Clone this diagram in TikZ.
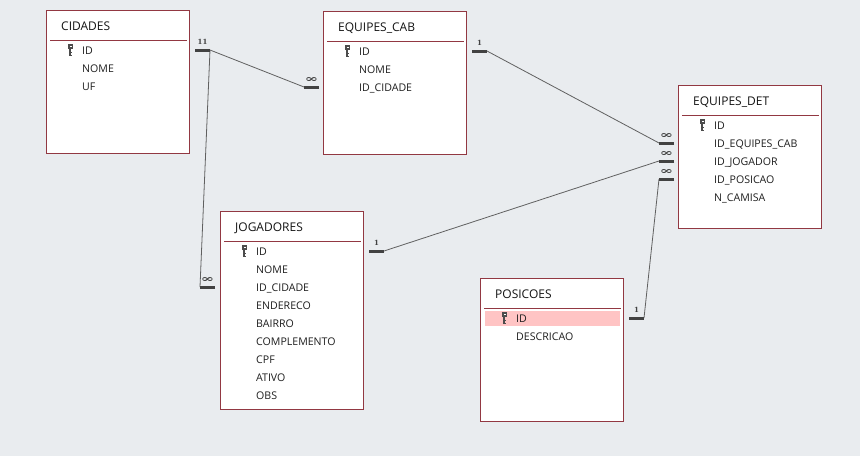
\documentclass[tikz,border=0pt]{standalone}
\usepackage{fontspec}
\setmainfont{Open Sans}
\newfontfamily\cardfont{DejaVu Serif}
\usepackage{graphicx}
\usepackage{tikz}
\usetikzlibrary{positioning, calc}
\definecolor{canvas}{RGB}{233,236,239}
\definecolor{tblred}{RGB}{146,56,66}
\definecolor{pkpink}{RGB}{255,196,196}
\definecolor{linkgray}{RGB}{96,96,96}
\definecolor{bargray}{RGB}{66,66,66}
\tikzset{
  table box/.style={draw=tblred, fill=white, line width=1pt, minimum width=143pt, anchor=north west, inner sep=0pt},
  table title/.style={anchor=west, inner sep=0pt, text height=8.6pt, text depth=0pt, text=black!92, font=\fontsize{12}{12}\selectfont},
  field/.style={anchor=west, inner sep=0pt, text height=7.5pt, text depth=0pt, text=black!88, font=\fontsize{10.6}{10.6}\selectfont},
  sep line/.style={draw=tblred, line width=1pt},
  card bar/.style={draw=bargray, line width=3pt},
  one label/.style={inner sep=0pt, above=4pt, text=bargray, font=\cardfont\bfseries\fontsize{7}{7}\selectfont},
  many label/.style={inner sep=0pt, above=3.5pt, text=bargray, font=\cardfont\bfseries\fontsize{10}{10}\selectfont},
  link/.style={draw=linkgray, line width=0.8pt},
  keyicon/.pic={
    \fill[black!70] (-2.5,-6) rectangle (2.5,-1.5);
    \fill[white] (-1,-4.8) rectangle (1,-3);
    \fill[black!70] (-1.2,-1.5) rectangle (0.3,6);
    \fill[black!70] (0.3,1.5) rectangle (1.8,2.7);
    \fill[black!70] (0.3,4.3) rectangle (1.8,5.5);
  },
}

\begin{document}
\begin{tikzpicture}[x=1pt, y=-1pt]
  % Canvas
  \fill[canvas] (0,0) rectangle (860,456);
  \useasboundingbox (0,0) rectangle (860,456);

  % CIDADES
  \node[table box, minimum height=143pt] (cidades) at (46,10) {};
  \node[table title] (cidades-t) at ($(cidades.north west)+(15,16.3)$) {CIDADES};
  \draw[sep line] ($(cidades.north west)+(4,30)$) -- ($(cidades.north east)+(-3,30)$);
  \foreach \f [count=\i] in {ID, NOME, UF}
    \node[field] (cidades-\i) at ($(cidades.north west)+(36,22.3+18*\i)$) {\f};
  \pic at ($(cidades-1.west)+(-11.5,0)$) {keyicon};

  % EQUIPES_CAB
  \node[table box, minimum height=143pt] (cab) at (323,11) {};
  \node[table title] (cab-t) at ($(cab.north west)+(15,16.3)$) {EQUIPES\_CAB};
  \draw[sep line] ($(cab.north west)+(4,30)$) -- ($(cab.north east)+(-3,30)$);
  \foreach \f [count=\i] in {ID, NOME, ID\_CIDADE}
    \node[field] (cab-\i) at ($(cab.north west)+(36,22.3+18*\i)$) {\f};
  \pic at ($(cab-1.west)+(-11.5,0)$) {keyicon};

  % EQUIPES_DET
  \node[table box, minimum height=143pt] (det) at (678,85) {};
  \node[table title] (det-t) at ($(det.north west)+(15,16.3)$) {EQUIPES\_DET};
  \draw[sep line] ($(det.north west)+(4,30)$) -- ($(det.north east)+(-3,30)$);
  \foreach \f [count=\i] in {ID, ID\_EQUIPES\_CAB, ID\_JOGADOR, ID\_POSICAO, N\_CAMISA}
    \node[field] (det-\i) at ($(det.north west)+(36,22.3+18*\i)$) {\f};
  \pic at ($(det-1.west)+(-11.5,0)$) {keyicon};

  % JOGADORES
  \node[table box, minimum height=198pt] (jogadores) at (220,211) {};
  \node[table title] (jogadores-t) at ($(jogadores.north west)+(15,16.3)$) {JOGADORES};
  \draw[sep line] ($(jogadores.north west)+(4,30)$) -- ($(jogadores.north east)+(-3,30)$);
  \foreach \f [count=\i] in {ID, NOME, ID\_CIDADE, ENDERECO, BAIRRO, COMPLEMENTO, CPF, ATIVO, OBS}
    \node[field] (jogadores-\i) at ($(jogadores.north west)+(36,22.3+18*\i)$) {\f};
  \pic at ($(jogadores-1.west)+(-11.5,0)$) {keyicon};

  % POSICOES
  \node[table box, minimum height=143pt] (posicoes) at (480,278) {};
  \node[table title] (posicoes-t) at ($(posicoes.north west)+(15,16.3)$) {POSICOES};
  \draw[sep line] ($(posicoes.north west)+(4,30)$) -- ($(posicoes.north east)+(-3,30)$);
  \fill[pkpink] ($(posicoes.north west)+(5,32.5)$) rectangle ($(posicoes.north east)+(-4,47.5)$);
  \foreach \f [count=\i] in {ID, DESCRICAO}
    \node[field] (posicoes-\i) at ($(posicoes.north west)+(36,22.3+18*\i)$) {\f};
  \pic at ($(posicoes-1.west)+(-11.5,0)$) {keyicon};

  % Relationship ends
  \coordinate (cidades-r-in) at ($(cidades.east |- cidades-1)+(5,-0.3)$);
  \coordinate (cidades-r-out) at ($(cidades-r-in)+(15,0)$);
  \coordinate (cab-l-in) at ($(cab.west |- cab-3)+(-4,-0.3)$);
  \coordinate (cab-l-out) at ($(cab-l-in)+(-15,0)$);
  \coordinate (cab-r-in) at ($(cab.east |- cab-1)+(5,-0.3)$);
  \coordinate (cab-r-out) at ($(cab-r-in)+(15,0)$);
  \coordinate (jogadores-l-in) at ($(jogadores.west |- jogadores-3)+(-5,-0.3)$);
  \coordinate (jogadores-l-out) at ($(jogadores-l-in)+(-15,0)$);
  \coordinate (jogadores-r-in) at ($(jogadores.east |- jogadores-1)+(5,-0.3)$);
  \coordinate (jogadores-r-out) at ($(jogadores-r-in)+(15,0)$);
  \coordinate (posicoes-r-in) at ($(posicoes.east |- posicoes-1)+(5,-0.3)$);
  \coordinate (posicoes-r-out) at ($(posicoes-r-in)+(15,0)$);
  \coordinate (det-a-in) at ($(det.west |- det-2)+(-4,-0.3)$);
  \coordinate (det-a-out) at ($(det-a-in)+(-15,0)$);
  \coordinate (det-b-in) at ($(det.west |- det-3)+(-4,-0.3)$);
  \coordinate (det-b-out) at ($(det-b-in)+(-15,0)$);
  \coordinate (det-c-in) at ($(det.west |- det-4)+(-4,-0.3)$);
  \coordinate (det-c-out) at ($(det-c-in)+(-15,0)$);

  % Links
  \draw[link] (cidades-r-out) -- (cab-l-out);
  \draw[link] (cidades-r-out) -- (jogadores-l-out);
  \draw[link] (cab-r-out) -- (det-a-out);
  \draw[link] (jogadores-r-out) -- (det-b-out);
  \draw[link] (posicoes-r-out) -- (det-c-out);

  % Cardinality
  \draw[card bar] (cidades-r-in) -- node[one label, xshift=-2.5pt] {1} (cidades-r-out);
  \draw[card bar] (cidades-r-in) -- node[one label, xshift=2.5pt] {1} (cidades-r-out);
  \draw[card bar] (cab-r-in) -- node[one label] {1} (cab-r-out);
  \draw[card bar] (jogadores-r-in) -- node[one label] {1} (jogadores-r-out);
  \draw[card bar] (posicoes-r-in) -- node[one label] {1} (posicoes-r-out);
  \draw[card bar] (cab-l-in) -- node[many label] {\scalebox{1.6}[1]{∞}} (cab-l-out);
  \draw[card bar] (jogadores-l-in) -- node[many label] {\scalebox{1.6}[1]{∞}} (jogadores-l-out);
  \draw[card bar] (det-a-in) -- node[many label] {\scalebox{1.6}[1]{∞}} (det-a-out);
  \draw[card bar] (det-b-in) -- node[many label] {\scalebox{1.6}[1]{∞}} (det-b-out);
  \draw[card bar] (det-c-in) -- node[many label] {\scalebox{1.6}[1]{∞}} (det-c-out);
\end{tikzpicture}
\end{document}
